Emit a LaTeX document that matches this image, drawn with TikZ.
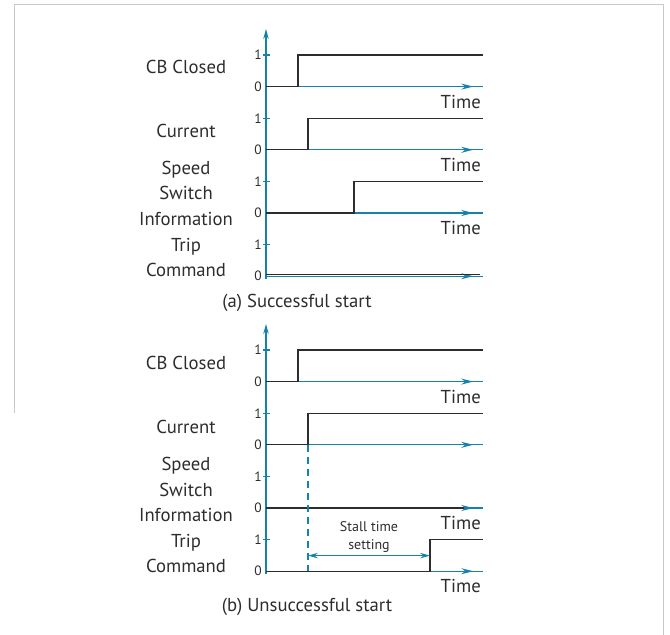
\documentclass[tikz,border=0pt]{standalone}
\usepackage{fontspec}
\setmainfont{PT Sans}
\usetikzlibrary{arrows.meta,decorations.markings}
\definecolor{axisblue}{RGB}{20,130,170}
\definecolor{txtgray}{RGB}{45,45,45}
\definecolor{framegray}{RGB}{200,200,203}

\begin{document}
\begin{tikzpicture}[
        x=1pt, y=-1pt,
        axis/.style={axisblue, line width=1.2pt},
        timeaxis/.style={axis, postaction={decorate},
            decoration={markings, mark=at position 0.955 with
                {\arrow{Stealth[length=12pt,width=6pt,inset=4pt]}}}},
        signal/.style={txtgray, line width=1.1pt},
        signame/.style={text=txtgray, align=center, font=\fontsize{18.7}{25.5}\selectfont},
        levellbl/.style={text=txtgray, anchor=east, inner sep=1pt, font=\fontsize{13.5}{13.5}\selectfont},
        timelbl/.style={text=txtgray, anchor=east, inner sep=1pt, font=\fontsize{18.7}{18.7}\selectfont},
        >={Stealth[length=10pt,width=5.5pt,inset=3.5pt]}
    ]
    \def\gap{31.6} % distance between 1 and 0 levels
    \def\xo{266}   % time axis origin
    \def\xe{483}   % time axis end

    \useasboundingbox (0,0) rectangle (670,635);
    % frame
    \draw[framegray, line width=1.6pt] (14.5,413) -- (14.5,4.5) -- (663.5,4.5) -- (663.5,635);

    % axes of both panels
    \foreach \p/\yt in {a/55, b/350} {
        \draw[axis,->] (\xo,\yt+7*\gap+3) -- (\xo,\yt-26);
        \foreach \i in {0,...,3} {
            \pgfmathsetmacro{\yh}{\yt+2*\i*\gap}
            \pgfmathsetmacro{\yl}{\yh+\gap}
            \coordinate (\p-hi-\i) at (\xo,\yh);
            \coordinate (\p-lo-\i) at (\xo,\yl);
            \coordinate (\p-end-\i) at (\xe,\yh);
            \draw[axis] (\xo-3,\yh) -- (\xo+4,\yh);
            \node[levellbl] (\p-one-\i) at (\xo-3,\yh) {1};
            \node[levellbl] (\p-zero-\i) at (\xo-3,\yl) {0};
            \draw[timeaxis] (\p-lo-\i) -- (\xe,\yl);
        }
    }

    % (a) successful start
    \draw[signal] (a-lo-0) -- ([xshift=32pt]a-lo-0) |- (a-end-0);
    \draw[signal] (a-lo-1) -- ([xshift=42pt]a-lo-1) |- (a-end-1);
    \draw[signal] (a-lo-2) -- ([xshift=88pt]a-lo-2) |- (a-end-2);
    \draw[signal] ([yshift=1.5pt]a-lo-3) -- ([xshift=214pt,yshift=1.5pt]a-lo-3);

    \node[signame] (a-cb) at (186,67) {CB Closed};
    \node[signame] (a-cur) at (186,131) {Current};
    \node[signame] (a-speed) at (186,193) {Speed\\Switch\\Information};
    \node[signame] (a-trip) at (186,257.5) {Trip\\Command};
    \foreach \i in {0,1,2}
        \node[timelbl] (a-time-\i) at ([xshift=-1pt,yshift=-15pt]a-lo-\i -| a-end-\i) {Time};
    \node[signame] (a-caption) at (297,303) {(a) Successful start};

    % (b) unsuccessful start
    \draw[signal] (b-lo-0) -- ([xshift=32pt]b-lo-0) |- (b-end-0);
    \draw[signal] (b-lo-1) -- ([xshift=42pt]b-lo-1) |- (b-end-1);
    \draw[signal] (b-lo-2) -- ([xshift=198pt]b-lo-2);
    \draw[signal] (b-lo-3) -- ([xshift=164pt]b-lo-3) |- (b-end-3);

    \coordinate (b-cur) at ([xshift=42pt]b-lo-1);
    \coordinate (b-trip) at ([xshift=164pt]b-lo-3);
    \path (b-cur |- b-lo-3) ++(0,-15.6) coordinate (stall-l);
    \path (b-trip) ++(0,-15.6) coordinate (stall-r);
    \draw[axis, dash pattern=on 7pt off 5pt] (b-cur) -- (b-cur |- b-lo-3);
    \draw[axis, line width=1pt, <->] (stall-l) -- node[above=2pt, text=txtgray, align=center,
        inner sep=1pt, font=\fontsize{14}{18}\selectfont] (stall) {Stall time\\setting} (stall-r);

    \node[signame] (b-cb) at (186,363) {CB Closed};
    \node[signame] (b-cur-lbl) at (186,427) {Current};
    \node[signame] (b-speed) at (186,489.5) {Speed\\Switch\\Information};
    \node[signame] (b-trip-lbl) at (186,553.5) {Trip\\Command};
    \foreach \i in {0,2,3}
        \node[timelbl] (b-time-\i) at ([xshift=-1pt,yshift=-15pt]b-lo-\i -| b-end-\i) {Time};
    \node[signame] (b-caption) at (307,607) {(b) Unsuccessful start};
\end{tikzpicture}
\end{document}
